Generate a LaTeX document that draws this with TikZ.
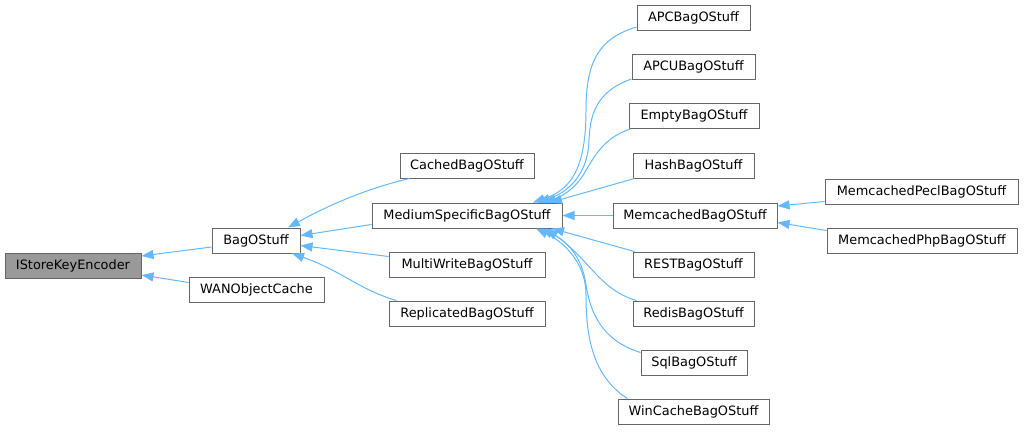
\documentclass[tikz,border=0pt]{standalone}
\usepackage{fontspec}
\setmainfont{DejaVu Sans}
\usetikzlibrary{arrows.meta}
\definecolor{edgeblue}{HTML}{63B8FF}
\definecolor{boxgray}{HTML}{666666}
\definecolor{basegray}{HTML}{999999}
\begin{document}
\begin{tikzpicture}[x=1pt,y=-1pt,
		cls/.style={draw=boxgray, fill=white, line width=1pt, minimum height=25pt, inner sep=0pt,
			font=\fontsize{12.9}{15}\selectfont},
		inh/.style={draw=edgeblue, line width=1pt, -{Triangle[length=12pt,width=9pt,fill=edgeblue]}}]
			\useasboundingbox (0,0) rectangle (1024,431);
			% classes
			\node[cls, fill=basegray, minimum width=136pt] (istore) at (73,266) {IStoreKeyEncoder};
			\node[cls, minimum width=88pt] (bag) at (256,240.5) {BagOStuff};
			\node[cls, minimum width=135pt] (wan) at (256.5,289.5) {WANObjectCache};
			\node[cls, minimum width=134pt] (cached) at (467,165.5) {CachedBagOStuff};
			\node[cls, minimum width=190pt] (medium) at (467,215.5) {MediumSpecificBagOStuff};
			\node[cls, minimum width=156pt] (multi) at (467,264.5) {MultiWriteBagOStuff};
			\node[cls, minimum width=156pt] (repl) at (467,313.5) {ReplicatedBagOStuff};
			\node[cls, minimum width=113pt] (apc) at (693.5,18) {APCBagOStuff};
			\node[cls, minimum width=123pt] (apcu) at (693.5,67) {APCUBagOStuff};
			\node[cls, minimum width=130pt] (empty) at (694,116) {EmptyBagOStuff};
			\node[cls, minimum width=121pt] (hash) at (693.5,165.5) {HashBagOStuff};
			\node[cls, minimum width=164pt] (memc) at (695,215.5) {MemcachedBagOStuff};
			\node[cls, minimum width=121pt] (rest) at (693.5,264.5) {RESTBagOStuff};
			\node[cls, minimum width=121pt] (redis) at (693.5,313.5) {RedisBagOStuff};
			\node[cls, minimum width=106pt] (sql) at (694,362.5) {SqlBagOStuff};
			\node[cls, minimum width=151pt] (wincache) at (693.5,411.5) {WinCacheBagOStuff};
			\node[cls, minimum width=193pt] (pecl) at (921.5,191.5) {MemcachedPeclBagOStuff};
			\node[cls, minimum width=190pt] (php) at (922,240.5) {MemcachedPhpBagOStuff};
			% inheritance
			\draw[inh] ([yshift=-6.5pt]bag.west) -- ([yshift=10pt]istore.east);
			\draw[inh] ([yshift=7pt]wan.west) -- ([yshift=-9pt]istore.east);
			\draw[inh] ([xshift=10pt]cached.south west) .. controls (360,190) and (320,210) .. ([xshift=32pt]bag.north);
			\draw[inh] ([yshift=-9pt]medium.west) -- ([yshift=5pt]bag.east);
			\draw[inh] ([yshift=8pt]multi.west) -- ([yshift=-5pt]bag.east);
			\draw[inh] ([xshift=8pt]repl.north west) .. controls (360,290) and (340,270) .. ([xshift=36pt]bag.south);
			\draw[inh] ([yshift=4pt]apc.south west) .. controls (600,38) and (586,60) .. (586,110)
				.. controls (586,170) and (570,190) .. ([xshift=66pt]medium.north);
			\draw[inh] ([yshift=1pt]apcu.south west) .. controls (600,90) and (590,110) .. (589,140)
				.. controls (588,175) and (568,192) .. ([xshift=71pt]medium.north);
			\draw[inh] ([xshift=2pt]empty.south west) .. controls (605,137) and (595,155) .. (585,172)
				.. controls (575,190) and (560,197) .. ([xshift=77pt]medium.north);
			\draw[inh] ([xshift=2pt]hash.south west) -- ([xshift=83pt]medium.north);
			\draw[inh] (memc.west) -- (medium.east);
			\draw[inh] ([xshift=2pt]rest.north west) -- ([xshift=85pt]medium.south);
			\draw[inh] ([xshift=4pt]redis.north west) .. controls (600,290) and (590,260) .. ([xshift=79pt]medium.south);
			\draw[inh] ([yshift=-3pt]sql.north west) .. controls (600,340) and (590,310) .. (586,285)
				.. controls (582,255) and (565,240) .. ([xshift=74pt]medium.south);
			\draw[inh] ([xshift=10pt]wincache.north west) .. controls (590,375) and (586,330) .. (586,295)
				.. controls (586,260) and (560,240) .. ([xshift=69pt]medium.south);
			\draw[inh] ([yshift=-10pt]pecl.west) -- ([yshift=9.5pt]memc.east);
			\draw[inh] ([yshift=10pt]php.west) -- ([yshift=-7pt]memc.east);
		\end{tikzpicture}
\end{document}
